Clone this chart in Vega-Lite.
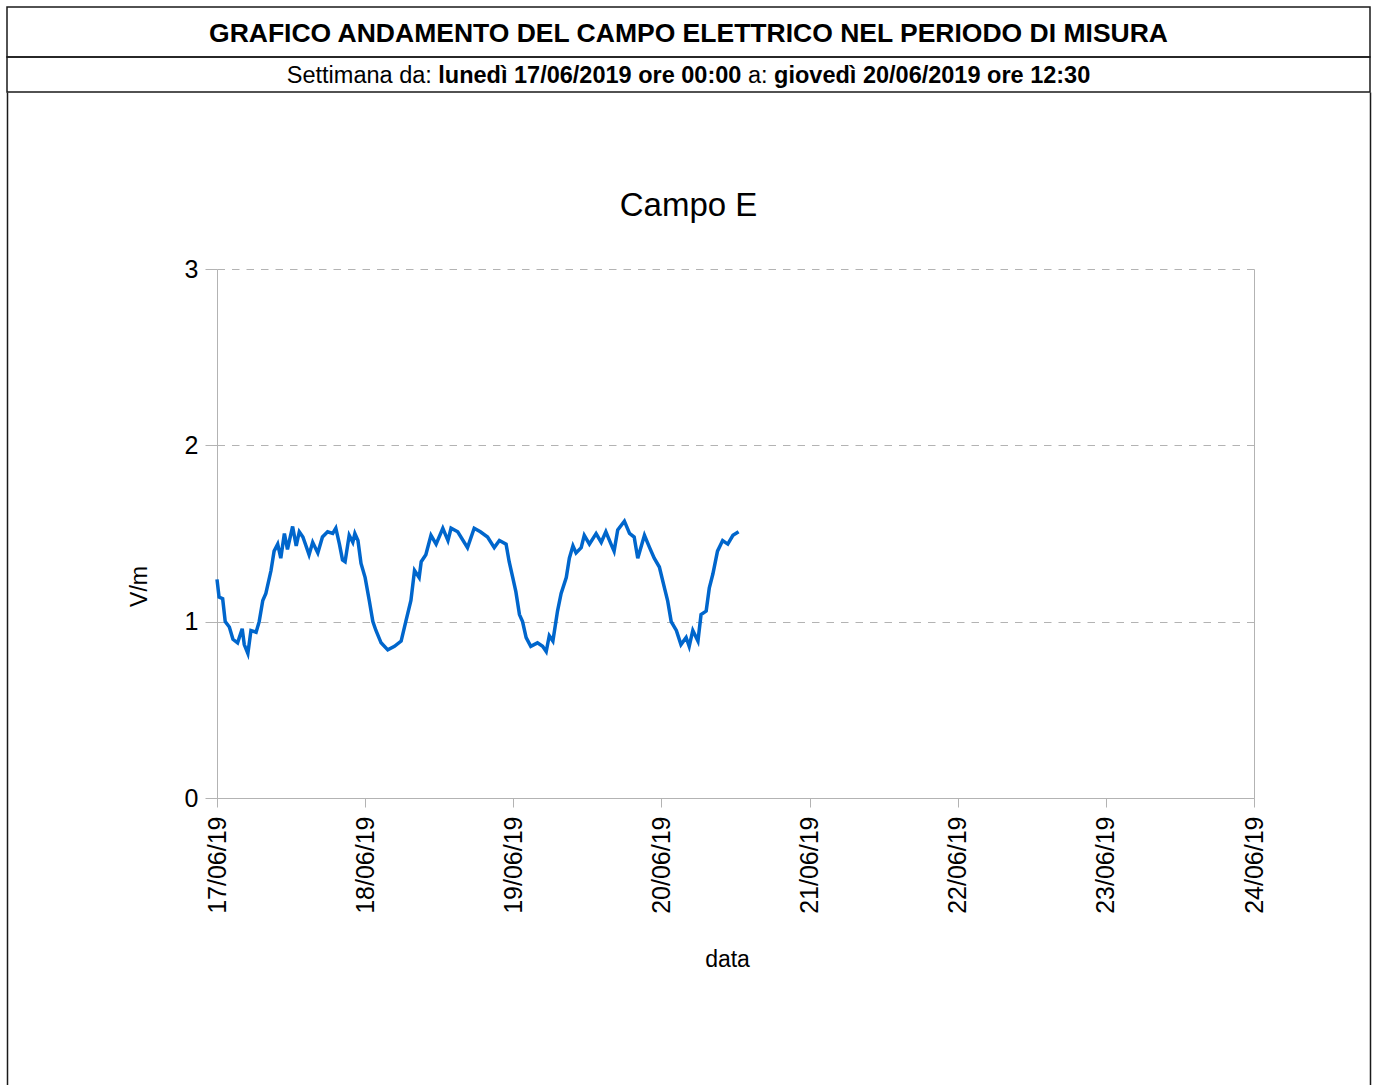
{
  "$schema": "https://vega.github.io/schema/vega-lite/v6.json",
  "padding": {"left": 6, "top": 6, "right": 5, "bottom": 0},
  "background": "white",
  "spacing": 0,
  "bounds": "flush",
  "config": {
    "font": "Liberation Sans",
    "view": {"stroke": null},
    "title": {"font": "Liberation Sans", "fontWeight": "normal", "color": "black"}
  },
  "datasets": {
    "campo": [
      {"data": "2019-06-17T00:00:00Z", "campo": 1.24},
      {"data": "2019-06-17T00:20:00Z", "campo": 1.14},
      {"data": "2019-06-17T00:55:00Z", "campo": 1.13},
      {"data": "2019-06-17T01:20:00Z", "campo": 1.00},
      {"data": "2019-06-17T02:00:00Z", "campo": 0.97},
      {"data": "2019-06-17T02:35:00Z", "campo": 0.90},
      {"data": "2019-06-17T03:20:00Z", "campo": 0.88},
      {"data": "2019-06-17T04:05:00Z", "campo": 0.96},
      {"data": "2019-06-17T04:25:00Z", "campo": 0.87},
      {"data": "2019-06-17T05:00:00Z", "campo": 0.82},
      {"data": "2019-06-17T05:30:00Z", "campo": 0.95},
      {"data": "2019-06-17T06:20:00Z", "campo": 0.94},
      {"data": "2019-06-17T06:50:00Z", "campo": 1.00},
      {"data": "2019-06-17T07:25:00Z", "campo": 1.12},
      {"data": "2019-06-17T07:55:00Z", "campo": 1.16},
      {"data": "2019-06-17T08:45:00Z", "campo": 1.29},
      {"data": "2019-06-17T09:15:00Z", "campo": 1.40},
      {"data": "2019-06-17T09:50:00Z", "campo": 1.44},
      {"data": "2019-06-17T10:20:00Z", "campo": 1.36},
      {"data": "2019-06-17T10:55:00Z", "campo": 1.50},
      {"data": "2019-06-17T11:25:00Z", "campo": 1.41},
      {"data": "2019-06-17T12:15:00Z", "campo": 1.54},
      {"data": "2019-06-17T12:50:00Z", "campo": 1.43},
      {"data": "2019-06-17T13:20:00Z", "campo": 1.51},
      {"data": "2019-06-17T13:55:00Z", "campo": 1.48},
      {"data": "2019-06-17T14:55:00Z", "campo": 1.38},
      {"data": "2019-06-17T15:30:00Z", "campo": 1.45},
      {"data": "2019-06-17T16:20:00Z", "campo": 1.39},
      {"data": "2019-06-17T17:05:00Z", "campo": 1.48},
      {"data": "2019-06-17T17:55:00Z", "campo": 1.51},
      {"data": "2019-06-17T18:45:00Z", "campo": 1.50},
      {"data": "2019-06-17T19:15:00Z", "campo": 1.53},
      {"data": "2019-06-17T19:50:00Z", "campo": 1.44},
      {"data": "2019-06-17T20:20:00Z", "campo": 1.35},
      {"data": "2019-06-17T20:45:00Z", "campo": 1.34},
      {"data": "2019-06-17T21:25:00Z", "campo": 1.49},
      {"data": "2019-06-17T22:00:00Z", "campo": 1.45},
      {"data": "2019-06-17T22:20:00Z", "campo": 1.50},
      {"data": "2019-06-17T22:50:00Z", "campo": 1.46},
      {"data": "2019-06-17T23:20:00Z", "campo": 1.33},
      {"data": "2019-06-18T00:00:00Z", "campo": 1.25},
      {"data": "2019-06-18T00:40:00Z", "campo": 1.12},
      {"data": "2019-06-18T01:15:00Z", "campo": 1.00},
      {"data": "2019-06-18T01:45:00Z", "campo": 0.95},
      {"data": "2019-06-18T02:35:00Z", "campo": 0.88},
      {"data": "2019-06-18T03:40:00Z", "campo": 0.84},
      {"data": "2019-06-18T04:45:00Z", "campo": 0.86},
      {"data": "2019-06-18T05:50:00Z", "campo": 0.89},
      {"data": "2019-06-18T06:35:00Z", "campo": 1.00},
      {"data": "2019-06-18T07:25:00Z", "campo": 1.12},
      {"data": "2019-06-18T08:00:00Z", "campo": 1.29},
      {"data": "2019-06-18T08:45:00Z", "campo": 1.25},
      {"data": "2019-06-18T09:05:00Z", "campo": 1.34},
      {"data": "2019-06-18T09:50:00Z", "campo": 1.38},
      {"data": "2019-06-18T10:40:00Z", "campo": 1.49},
      {"data": "2019-06-18T11:30:00Z", "campo": 1.44},
      {"data": "2019-06-18T12:35:00Z", "campo": 1.53},
      {"data": "2019-06-18T13:25:00Z", "campo": 1.46},
      {"data": "2019-06-18T13:55:00Z", "campo": 1.53},
      {"data": "2019-06-18T15:00:00Z", "campo": 1.51},
      {"data": "2019-06-18T16:35:00Z", "campo": 1.42},
      {"data": "2019-06-18T17:40:00Z", "campo": 1.53},
      {"data": "2019-06-18T18:40:00Z", "campo": 1.51},
      {"data": "2019-06-18T19:50:00Z", "campo": 1.48},
      {"data": "2019-06-18T20:55:00Z", "campo": 1.42},
      {"data": "2019-06-18T21:45:00Z", "campo": 1.46},
      {"data": "2019-06-18T22:50:00Z", "campo": 1.44},
      {"data": "2019-06-18T23:20:00Z", "campo": 1.34},
      {"data": "2019-06-18T23:55:00Z", "campo": 1.25},
      {"data": "2019-06-19T00:25:00Z", "campo": 1.17},
      {"data": "2019-06-19T01:00:00Z", "campo": 1.04},
      {"data": "2019-06-19T01:30:00Z", "campo": 1.00},
      {"data": "2019-06-19T02:05:00Z", "campo": 0.91},
      {"data": "2019-06-19T02:50:00Z", "campo": 0.86},
      {"data": "2019-06-19T03:55:00Z", "campo": 0.88},
      {"data": "2019-06-19T04:45:00Z", "campo": 0.86},
      {"data": "2019-06-19T05:20:00Z", "campo": 0.83},
      {"data": "2019-06-19T05:50:00Z", "campo": 0.92},
      {"data": "2019-06-19T06:25:00Z", "campo": 0.89},
      {"data": "2019-06-19T07:10:00Z", "campo": 1.06},
      {"data": "2019-06-19T07:45:00Z", "campo": 1.16},
      {"data": "2019-06-19T08:35:00Z", "campo": 1.25},
      {"data": "2019-06-19T09:05:00Z", "campo": 1.36},
      {"data": "2019-06-19T09:40:00Z", "campo": 1.43},
      {"data": "2019-06-19T10:10:00Z", "campo": 1.39},
      {"data": "2019-06-19T11:00:00Z", "campo": 1.42},
      {"data": "2019-06-19T11:30:00Z", "campo": 1.49},
      {"data": "2019-06-19T12:20:00Z", "campo": 1.44},
      {"data": "2019-06-19T13:25:00Z", "campo": 1.50},
      {"data": "2019-06-19T14:15:00Z", "campo": 1.45},
      {"data": "2019-06-19T15:00:00Z", "campo": 1.51},
      {"data": "2019-06-19T15:50:00Z", "campo": 1.44},
      {"data": "2019-06-19T16:20:00Z", "campo": 1.40},
      {"data": "2019-06-19T16:55:00Z", "campo": 1.52},
      {"data": "2019-06-19T18:00:00Z", "campo": 1.57},
      {"data": "2019-06-19T18:50:00Z", "campo": 1.50},
      {"data": "2019-06-19T19:35:00Z", "campo": 1.48},
      {"data": "2019-06-19T20:10:00Z", "campo": 1.36},
      {"data": "2019-06-19T21:15:00Z", "campo": 1.49},
      {"data": "2019-06-19T22:05:00Z", "campo": 1.42},
      {"data": "2019-06-19T22:50:00Z", "campo": 1.36},
      {"data": "2019-06-19T23:40:00Z", "campo": 1.31},
      {"data": "2019-06-20T00:30:00Z", "campo": 1.19},
      {"data": "2019-06-20T01:00:00Z", "campo": 1.12},
      {"data": "2019-06-20T01:35:00Z", "campo": 1.00},
      {"data": "2019-06-20T02:25:00Z", "campo": 0.95},
      {"data": "2019-06-20T03:10:00Z", "campo": 0.87},
      {"data": "2019-06-20T04:00:00Z", "campo": 0.91},
      {"data": "2019-06-20T04:30:00Z", "campo": 0.86},
      {"data": "2019-06-20T05:05:00Z", "campo": 0.95},
      {"data": "2019-06-20T05:55:00Z", "campo": 0.89},
      {"data": "2019-06-20T06:25:00Z", "campo": 1.04},
      {"data": "2019-06-20T07:15:00Z", "campo": 1.06},
      {"data": "2019-06-20T07:45:00Z", "campo": 1.19},
      {"data": "2019-06-20T08:20:00Z", "campo": 1.27},
      {"data": "2019-06-20T09:05:00Z", "campo": 1.40},
      {"data": "2019-06-20T09:55:00Z", "campo": 1.46},
      {"data": "2019-06-20T10:45:00Z", "campo": 1.44},
      {"data": "2019-06-20T11:35:00Z", "campo": 1.49},
      {"data": "2019-06-20T12:30:00Z", "campo": 1.51}
    ]
  },
  "vconcat": [
    {
      "width": 1363,
      "height": 50,
      "view": {"stroke": "#1a1a1a", "strokeWidth": 1.5},
      "data": {"values": [{"testo": "GRAFICO ANDAMENTO DEL CAMPO ELETTRICO NEL PERIODO DI MISURA"}]},
      "mark": {"type": "text", "font": "Liberation Sans", "fontSize": 26.5, "fontWeight": "bold", "color": "black", "align": "center", "baseline": "middle", "dy": 2},
      "encoding": {"text": {"field": "testo"}}
    },
    {
      "width": 1363,
      "height": 35,
      "view": {"stroke": "#1a1a1a", "strokeWidth": 1.5},
      "data": {"values": [{"a": "Settimana da:", "b": "lunedì 17/06/2019 ore 00:00", "c": "a:", "d": "giovedì 20/06/2019 ore 12:30"}]},
      "layer": [
        {"mark": {"type": "text", "fontSize": 23.5, "color": "black", "align": "left", "baseline": "middle", "dx": -401.7, "dy": 1}, "encoding": {"text": {"field": "a"}}},
        {"mark": {"type": "text", "fontSize": 23.5, "fontWeight": "bold", "color": "black", "align": "left", "baseline": "middle", "dx": -250.2, "dy": 1}, "encoding": {"text": {"field": "b"}}},
        {"mark": {"type": "text", "fontSize": 23.5, "color": "black", "align": "left", "baseline": "middle", "dx": 59.4, "dy": 1}, "encoding": {"text": {"field": "c"}}},
        {"mark": {"type": "text", "fontSize": 23.5, "fontWeight": "bold", "color": "black", "align": "left", "baseline": "middle", "dx": 85.6, "dy": 1}, "encoding": {"text": {"field": "d"}}}
      ]
    },
    {
      "spacing": 0,
      "bounds": "flush",
      "hconcat": [
        {
          "width": 210,
          "height": 993,
          "data": {"name": "campo"},
          "mark": {"type": "point", "opacity": 0},
          "encoding": {
            "y": {"field": "campo", "type": "quantitative", "axis": {"labels": false, "ticks": false, "grid": false, "title": null, "domainColor": "#1a1a1a", "domainWidth": 1.5}}
          }
        },
        {
          "width": 1037,
          "height": 706,
          "data": {"name": "campo"},
          "title": {"text": "Campo E", "fontSize": 33, "fontWeight": "normal", "anchor": "middle", "frame": "group", "baseline": "alphabetic", "offset": -157, "dx": -47, "color": "black"},
          "resolve": {"axis": {"y": "independent"}},
          "layer": [
            {
              "mark": {"type": "line", "color": "#0066cc", "strokeWidth": 3.5, "interpolate": "linear"},
              "encoding": {
                "x": {
                  "field": "data",
                  "type": "temporal",
                  "scale": {"type": "utc", "nice": false, "domain": [{"year": 2019, "month": 6, "date": 17, "utc": true}, {"year": 2019, "month": 6, "date": 24, "utc": true}]},
                  "axis": {
                    "values": [
                      {"year": 2019, "month": 6, "date": 17, "utc": true},
                      {"year": 2019, "month": 6, "date": 18, "utc": true},
                      {"year": 2019, "month": 6, "date": 19, "utc": true},
                      {"year": 2019, "month": 6, "date": 20, "utc": true},
                      {"year": 2019, "month": 6, "date": 21, "utc": true},
                      {"year": 2019, "month": 6, "date": 22, "utc": true},
                      {"year": 2019, "month": 6, "date": 23, "utc": true},
                      {"year": 2019, "month": 6, "date": 24, "utc": true}
                    ],
                    "labelExpr": "utcFormat(datum.value, '%d/%m/%y')",
                    "labelAngle": -90,
                    "labelAlign": "right",
                    "labelBaseline": "middle",
                    "labelFontSize": 25,
                    "labelColor": "black",
                    "labelPadding": 9,
                    "labelFlush": false,
                    "labelOverlap": false,
                    "tickSize": 9,
                    "tickColor": "#b3b3b3",
                    "domainColor": "#b3b3b3",
                    "grid": false,
                    "title": "data",
                    "titleFontSize": 23,
                    "titleFontWeight": "normal",
                    "titleColor": "black",
                    "titleX": 510,
                    "titleY": 168,
                    "titleAlign": "center",
                    "titleBaseline": "alphabetic"
                  }
                },
                "y": {
                  "field": "campo",
                  "type": "quantitative",
                  "scale": {"domain": [0, 3], "range": [706, 177], "nice": false, "zero": false},
                  "axis": {
                    "values": [0, 1, 2, 3],
                    "labelFontSize": 25,
                    "labelColor": "black",
                    "labelPadding": 7,
                    "tickSize": 12,
                    "tickColor": "#b3b3b3",
                    "domainColor": "#b3b3b3",
                    "grid": true,
                    "gridColor": "#b3b3b3",
                    "gridDash": [7.5, 7],
                    "gridWidth": 1,
                    "title": "V/m",
                    "titleFontSize": 23,
                    "titleFontWeight": "normal",
                    "titleColor": "black",
                    "titleX": -78,
                    "titleY": 494,
                    "titleAngle": -90,
                    "titleAlign": "center",
                    "titleBaseline": "middle"
                  }
                }
              }
            },
            {
              "mark": {"type": "point", "opacity": 0},
              "encoding": {
                "x": {"field": "data", "type": "temporal"},
                "y": {
                  "field": "campo",
                  "type": "quantitative",
                  "axis": {"orient": "right", "labels": false, "ticks": false, "grid": false, "title": null, "domainColor": "#b3b3b3"}
                }
              }
            }
          ]
        },
        {
          "width": 116,
          "height": 993,
          "data": {"name": "campo"},
          "mark": {"type": "point", "opacity": 0},
          "encoding": {
            "y": {"field": "campo", "type": "quantitative", "axis": {"orient": "right", "labels": false, "ticks": false, "grid": false, "title": null, "domainColor": "#1a1a1a", "domainWidth": 1.5}}
          }
        }
      ]
    }
  ]
}
